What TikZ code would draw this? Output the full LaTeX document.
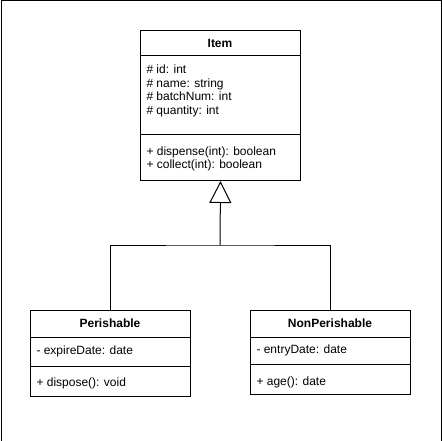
\documentclass[tikz,border=0pt]{standalone}
\usepackage{fontspec}
\setmainfont{Liberation Sans}
\usetikzlibrary{arrows.meta}
\begin{document}
\begin{tikzpicture}[x=1pt,y=-1pt,
  line width=1pt,
  classbox/.style={draw=black, line width=1pt, fill=white, inner sep=0pt, anchor=north west},
  title/.style={font=\fontsize{12}{14}\selectfont\bfseries, inner sep=0pt, anchor=base},
  member/.style={font=\fontsize{12}{14}\selectfont, inner sep=0pt, anchor=base west},
  inherit/.style={-{Triangle[open, length=22pt, width=22pt, line width=1pt]}}
]
\useasboundingbox (0,0) rectangle (441,441);
\node[draw=black, line width=1pt, minimum width=440pt, minimum height=440pt, inner sep=0pt, anchor=north west] (frame) at (0.5,0.5) {};

% Item
\node[classbox, minimum width=160pt, minimum height=150pt] (item) at (140,30) {};
\draw (140,56) -- (300,56);
\draw (140,134) -- (300,134);
\node[title] (itemT) at (220,48) {Item};
\node[member] (a1) at (146,73.7) {\# id: int};
\node[member] (a2) at (146,87.2) {\# name: string};
\node[member] (a3) at (146,100.7) {\# batchNum: int};
\node[member] (a4) at (146,114.2) {\# quantity: int};
\node[member] (m1) at (146,155.3) {+ dispense(int): boolean};
\node[member] (m2) at (146,168.7) {+ collect(int): boolean};

% Perishable
\node[classbox, minimum width=160pt, minimum height=86pt] (per) at (30,310) {};
\draw (30,337) -- (190,337);
\draw (30,366) -- (190,366);
\node[title] (perT) at (110,327.5) {Perishable};
\node[member] (pa) at (36,354) {- expireDate: date};
\node[member] (pm) at (36,386.5) {+ dispose(): void};

% NonPerishable
\node[classbox, minimum width=160pt, minimum height=84pt] (non) at (250,310) {};
\draw (250,337) -- (410,337);
\draw (250,364) -- (410,364);
\node[title] (nonT) at (330,327.5) {NonPerishable};
\node[member] (na) at (256,353.5) {- entryDate: date};
\node[member] (nm) at (256,385) {+ age(): date};

% Generalisation
\coordinate (j) at (220,245);
\draw (per.north) |- (j) -| (non.north);
\draw[inherit] (j) -- (item.south);
\end{tikzpicture}
\end{document}
